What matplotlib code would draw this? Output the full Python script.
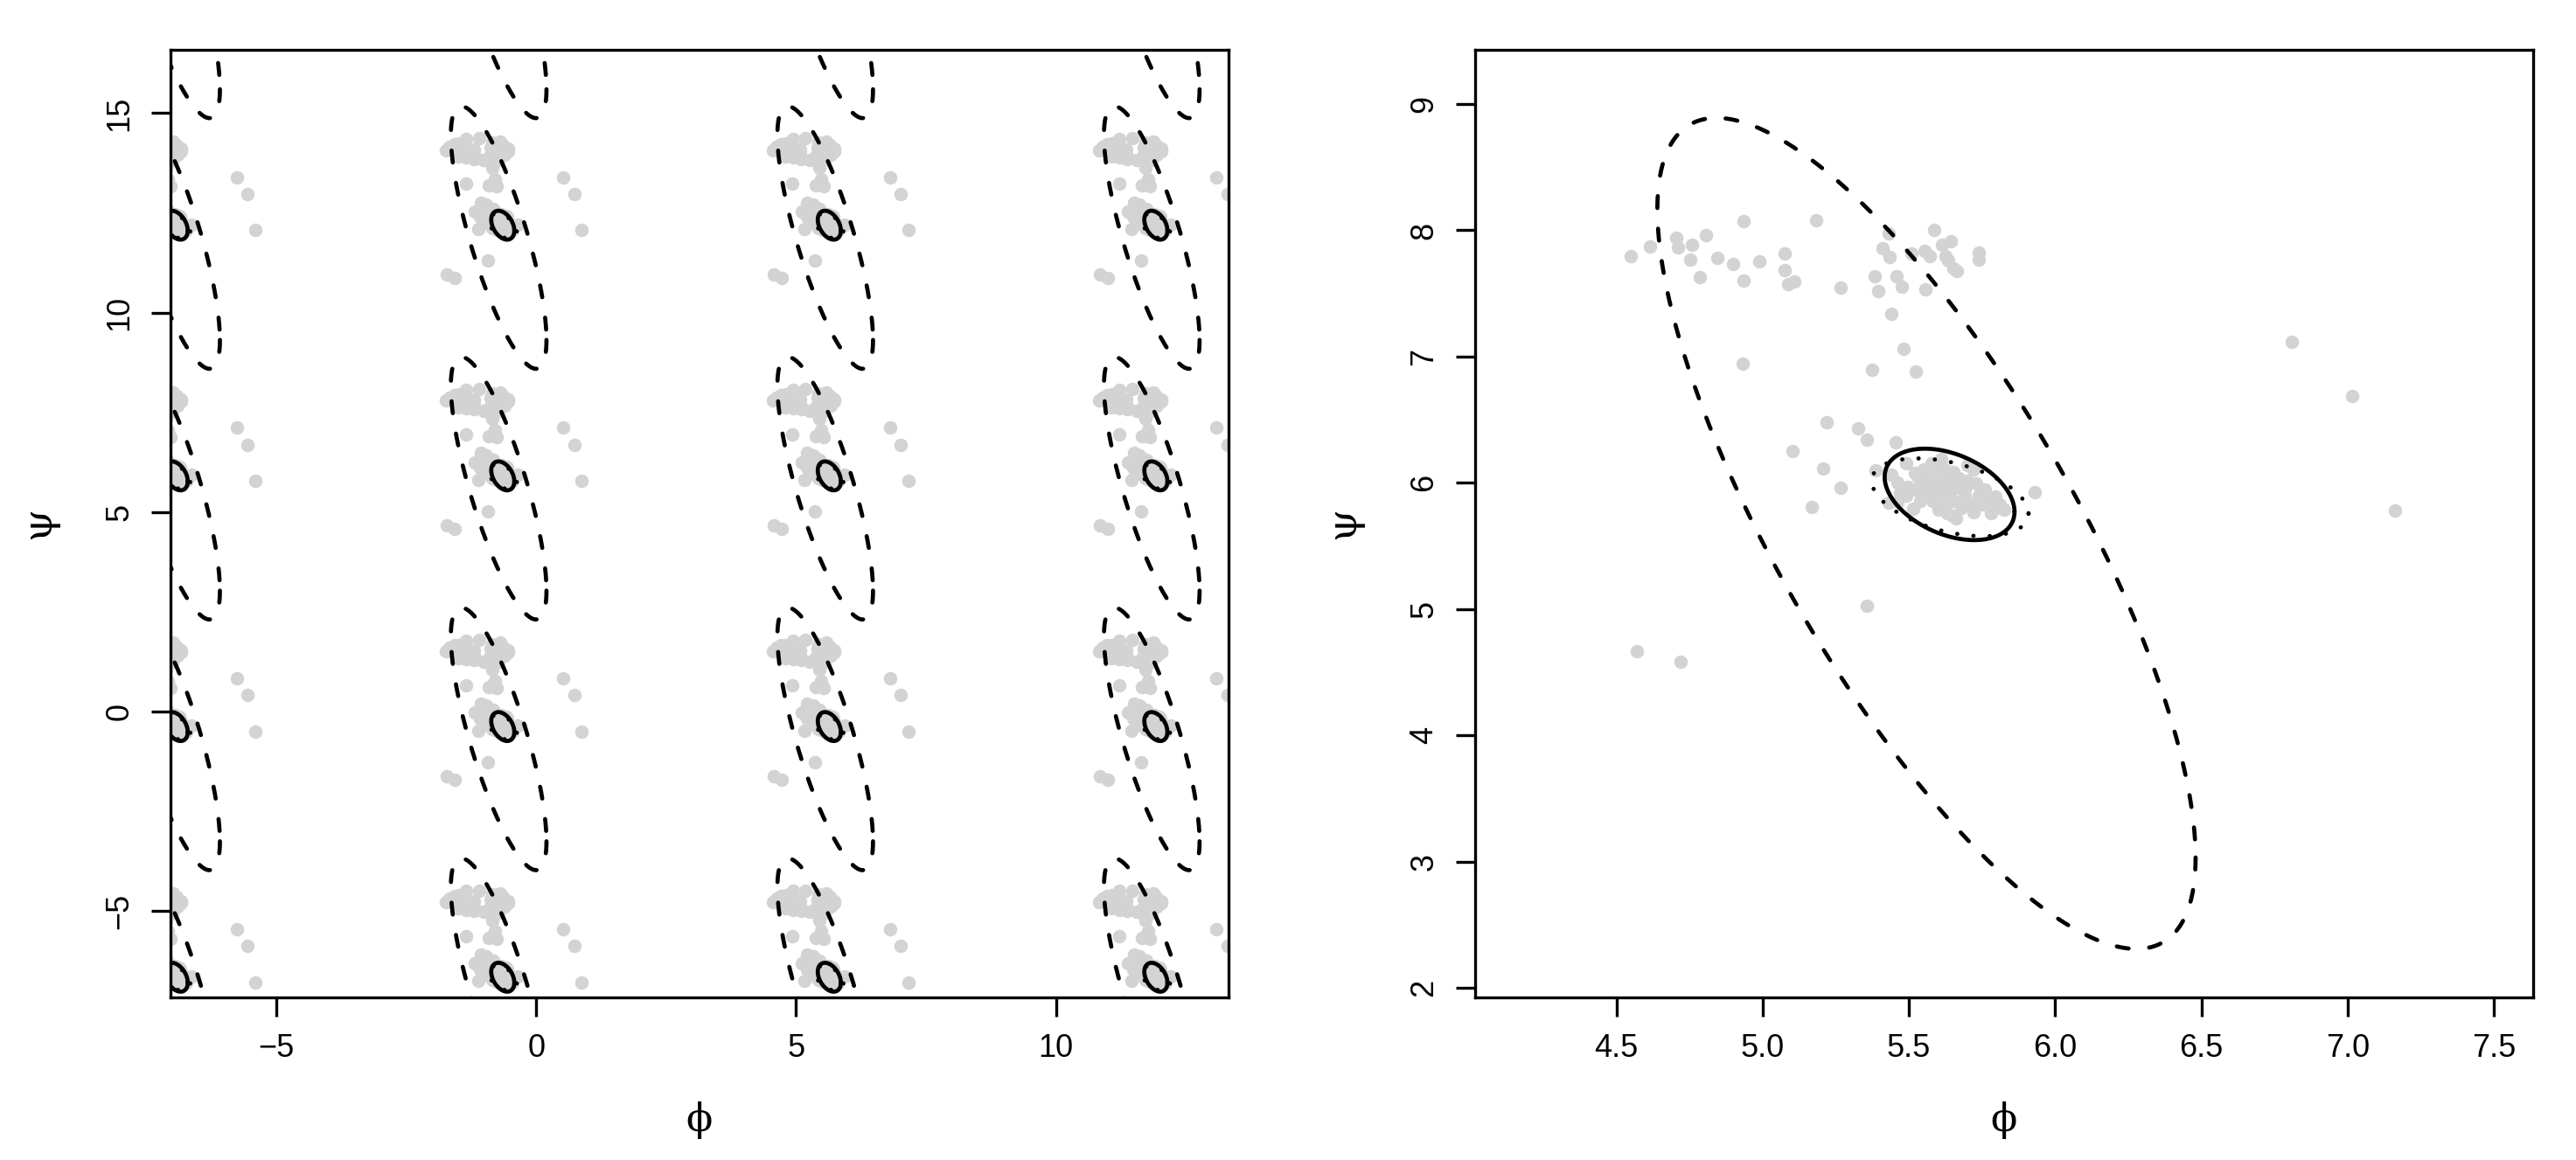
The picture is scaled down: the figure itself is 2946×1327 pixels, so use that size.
import numpy as np
import matplotlib
matplotlib.use("Agg")
import matplotlib.pyplot as plt

# ---------------- data ----------------
phi_upper = [4.549, 4.615, 4.706, 4.710, 4.757, 4.752, 4.806, 4.786, 4.844, 4.899,
             4.935, 4.935, 4.989, 5.076, 5.076, 5.088, 5.108, 5.182, 5.266, 5.382,
             5.394, 5.411, 5.431, 5.434, 5.440, 5.457, 5.475, 5.481, 5.510, 5.523,
             5.373, 5.553, 5.555, 5.571, 5.585, 5.614, 5.634, 5.642, 5.665, 5.739,
             4.931, 5.625, 5.652, 5.739]
psi_upper = [7.793, 7.874, 7.943, 7.863, 7.886, 7.770, 7.960, 7.632, 7.782, 7.736,
             8.070, 7.604, 7.754, 7.817, 7.683, 7.574, 7.597, 8.082, 7.544, 7.637,
             7.517, 7.858, 7.978, 7.789, 7.339, 7.637, 7.551, 7.060, 7.817, 6.882,
             6.898, 7.835, 7.535, 7.793, 8.006, 7.886, 7.759, 7.916, 7.678, 7.820,
             6.947, 7.793, 7.701, 7.770]

phi_scatter = [5.218, 5.326, 5.356, 5.454, 5.102, 5.207, 5.266, 5.167, 5.930, 5.357,
               4.569, 4.719, 6.808, 7.016, 7.161]
psi_scatter = [6.479, 6.432, 6.345, 6.322, 6.255, 6.114, 5.964, 5.810, 5.930, 5.025,
               4.666, 4.582, 7.115, 6.691, 5.784]

phi_core = [5.387, 5.441, 5.491, 5.496, 5.432, 5.516, 5.551, 5.576, 5.611, 5.651,
            5.720, 5.700, 5.750, 5.795, 5.825, 5.780, 5.661, 5.601, 5.551, 5.571,
            5.631, 5.671, 5.700, 5.611, 5.651, 5.691, 5.730, 5.591, 5.541, 5.710,
            5.750, 5.810, 5.631, 5.581, 5.521, 5.671, 5.621, 5.561, 5.641,
            5.460, 5.470, 5.520, 5.600, 5.660, 5.690, 5.740, 5.770, 5.800, 5.620,
            5.680, 5.580, 5.530, 5.490, 5.460, 5.720, 5.650, 5.760, 5.600, 5.540]
psi_core = [6.098, 6.063, 6.156, 5.971, 5.844, 5.798, 6.110, 6.156, 6.190, 6.087,
            6.110, 6.144, 5.948, 5.890, 5.786, 5.763, 5.717, 5.786, 5.902, 6.017,
            6.017, 5.971, 6.017, 5.925, 5.856, 5.902, 5.994, 6.064, 6.017, 5.833,
            5.833, 5.833, 5.764, 5.856, 5.948, 6.040, 6.110, 5.948, 5.925,
            6.000, 5.920, 6.080, 5.980, 5.960, 5.950, 5.900, 5.860, 5.800, 5.830,
            5.800, 5.910, 6.050, 5.900, 5.850, 5.770, 5.740, 5.950, 6.130, 5.860]

# contour ellipses: centre (phi, psi), half-widths (phi, psi), correlation
dashed_centre, dashed_radius, dashed_rho = (5.56, 5.60), (0.92, 3.29), -0.78
solid_centre, solid_radius, solid_rho = (5.639, 5.909), (0.222, 0.362), -0.38
dotted_centre, dotted_radius, dotted_rho = (5.641, 5.886), (0.268, 0.308), -0.42

left_xticks = [-5, 0, 5, 10]
left_yticks = [-5, 0, 5, 10, 15]
right_xticks = [4.5, 5.0, 5.5, 6.0, 6.5, 7.0, 7.5]
right_yticks = [2, 3, 4, 5, 6, 7, 8, 9]
right_xticklabels = ["4.5", "5.0", "5.5", "6.0", "6.5", "7.0", "7.5"]

period = 2 * np.pi
left_xlim = (-2 * np.pi - 0.24 * np.pi, 4 * np.pi + 0.24 * np.pi)
left_ylim = (-2 * np.pi - 0.28 * np.pi, 5 * np.pi + 0.28 * np.pi)
right_xlim = (4.017, 7.634)
right_ylim = (1.926, 9.429)

# ---------------- drawing ----------------
phi = np.array(phi_upper + phi_scatter + phi_core)
psi = np.array(psi_upper + psi_scatter + psi_core)


def ellipse(centre, radius, rho, n=500):
    t = np.linspace(0, 2 * np.pi, n)
    d = np.arccos(rho)
    return centre[0] + radius[0] * np.cos(t), centre[1] + radius[1] * np.cos(t + d)


W, H = 2946, 1327
fig = plt.figure(figsize=(W / 100, H / 100), dpi=100)
plt.rcParams["font.family"] = ["Liberation Sans", "DejaVu Sans"]

ax_l = fig.add_axes([195 / W, 1 - 1141 / H, 1210 / W, 1084 / H])
ax_r = fig.add_axes([1687 / W, 1 - 1141 / H, 1210 / W, 1084 / H])

grey = "#D3D3D3"
msize = 125
lw_curve = 3.4
dash_style = (0, (2.9, 5.0))
dot_style = (0, (0.05, 3.9))

curves = [
    (dashed_centre, dashed_radius, dashed_rho, dash_style),
    (solid_centre, solid_radius, solid_rho, "-"),
    (dotted_centre, dotted_radius, dotted_rho, dot_style),
]

# left: periodic copies
shifts = range(-3, 3)
for kx in shifts:
    for ky in shifts:
        ax_l.scatter(phi + kx * period, psi + ky * period, s=msize, c=grey,
                     linewidths=0, zorder=1)
for kx in shifts:
    for ky in shifts:
        for c, r, rho, ls in curves:
            x, y = ellipse(c, r, rho)
            ax_l.plot(x + kx * period, y + ky * period, color="black", lw=lw_curve,
                      linestyle=ls, dash_capstyle="round", solid_capstyle="round",
                      zorder=2)

# right: single cell
ax_r.scatter(phi, psi, s=msize, c=grey, linewidths=0, zorder=1)
for c, r, rho, ls in curves:
    x, y = ellipse(c, r, rho)
    ax_r.plot(x, y, color="black", lw=lw_curve, linestyle=ls,
              dash_capstyle="round", solid_capstyle="round", zorder=2)

ax_l.set_xlim(left_xlim)
ax_l.set_ylim(left_ylim)
ax_l.set_xticks(left_xticks)
ax_l.set_yticks(left_yticks)
ax_r.set_xlim(right_xlim)
ax_r.set_ylim(right_ylim)
ax_r.set_xticks(right_xticks)
ax_r.set_xticklabels(right_xticklabels)
ax_r.set_yticks(right_yticks)

for ax in (ax_l, ax_r):
    for sp in ax.spines.values():
        sp.set_linewidth(2.4)
        sp.set_color("black")
    ax.tick_params(axis="both", direction="out", length=15.8, width=2.4,
                   labelsize=26, colors="black")
    ax.tick_params(axis="x", pad=13.5)
    ax.tick_params(axis="y", pad=13.5, labelrotation=90)
    for lab in ax.get_yticklabels():
        lab.set_va("center")

greek = ["DejaVu Serif"]
for cx in ((195 + 1405) / 2, (1687 + 2897) / 2):
    fig.text(cx / W, 1 - 1281 / H, "\u03d5", ha="center", va="center",
             fontsize=32, family=greek)
for cx in (44, 1536):
    fig.text(cx / W, 1 - 598 / H, "\u03c8", ha="center", va="center",
             fontsize=34, family=greek, rotation=90)

fig.savefig("out.png", dpi=100)
